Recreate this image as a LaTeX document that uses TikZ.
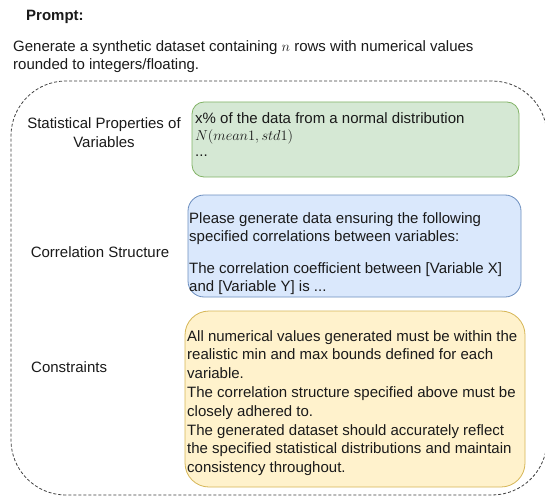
\documentclass[tikz,border=0pt]{standalone}
\usepackage{fontspec}
\setmainfont{Liberation Sans}
\definecolor{gfill}{HTML}{D5E8D4}
\definecolor{gdraw}{HTML}{82B366}
\definecolor{bfill}{HTML}{DAE8FC}
\definecolor{bdraw}{HTML}{6C8EBF}
\definecolor{yfill}{HTML}{FFF2CC}
\definecolor{ydraw}{HTML}{D6B656}
\definecolor{txt}{HTML}{1A1A1A}
\newcommand{\linesL}[1]{\begin{tabular}[t]{@{}l@{}}#1\end{tabular}}
\newcommand{\linesC}[1]{\begin{tabular}[t]{@{}c@{}}#1\end{tabular}}
\begin{document}
\begin{tikzpicture}[x=1pt,y=-1pt,
  every node/.style={text=txt},
  bodytext/.style={font=\fontsize{15}{18.8}\selectfont, inner sep=0pt, anchor=base west},
  labeltext/.style={font=\fontsize{15}{18.8}\selectfont, inner sep=0pt, anchor=base},
  boxshape/.style={rectangle, draw, line width=0.8pt, inner sep=0pt},
  frameshape/.style={rectangle, draw=black!75, dash pattern=on 3pt off 2pt, line width=0.8pt, rounded corners=55pt, inner sep=0pt}
]
\useasboundingbox (0,0) rectangle (545,497);
\fill[white] (0,0) rectangle (545,497);

\node[font=\fontsize{15}{18}\selectfont\bfseries, inner sep=0pt, anchor=base west] (title) at (26,21) {Prompt:};
\node[bodytext, font=\fontsize{15}{17.5}\selectfont] (intro) at (13,52) {\linesL{Generate a synthetic dataset containing $n$ rows with numerical values\\rounded to integers/floating.}};

\node[frameshape, minimum width=536pt, minimum height=414pt] (frame) at (279,288) {};

\node[boxshape, draw=gdraw, fill=gfill, rounded corners=12pt, minimum width=327pt, minimum height=75pt] (gbox) at (355.5,139.5) {};
\node[boxshape, draw=bdraw, fill=bfill, rounded corners=16pt, minimum width=333pt, minimum height=102pt] (bbox) at (354.5,246) {};
\node[boxshape, draw=ydraw, fill=yfill, rounded corners=24pt, minimum width=340pt, minimum height=176pt] (ybox) at (355,399) {};

\node[labeltext, font=\fontsize{15}{19}\selectfont] (lstat) at (104,129) {\linesC{Statistical Properties of\\Variables}};
\node[labeltext] (lcorr) at (100,257) {Correlation Structure};
\node[labeltext, anchor=base west] (lcons) at (31,372) {Constraints};

\node[bodytext, font=\fontsize{15}{16.2}\selectfont] (gtext) at (195,124) {\linesL{x\% of the data from a normal distribution\\$N(mean1, std1)$\\...}};
\node[bodytext] (btext1) at (189,223) {\linesL{Please generate data ensuring the following\\specified correlations between variables:}};
\node[bodytext] (btext2) at (189,273) {\linesL{The correlation coefficient between [Variable X]\\and [Variable Y] is ...}};
\node[bodytext] (ytext) at (187,341) {\linesL{All numerical values generated must be within the\\realistic min and max bounds defined for each\\variable.\\The correlation structure specified above must be\\closely adhered to.\\The generated dataset should accurately reflect\\the specified statistical distributions and maintain\\consistency throughout.}};
\end{tikzpicture}
\end{document}
